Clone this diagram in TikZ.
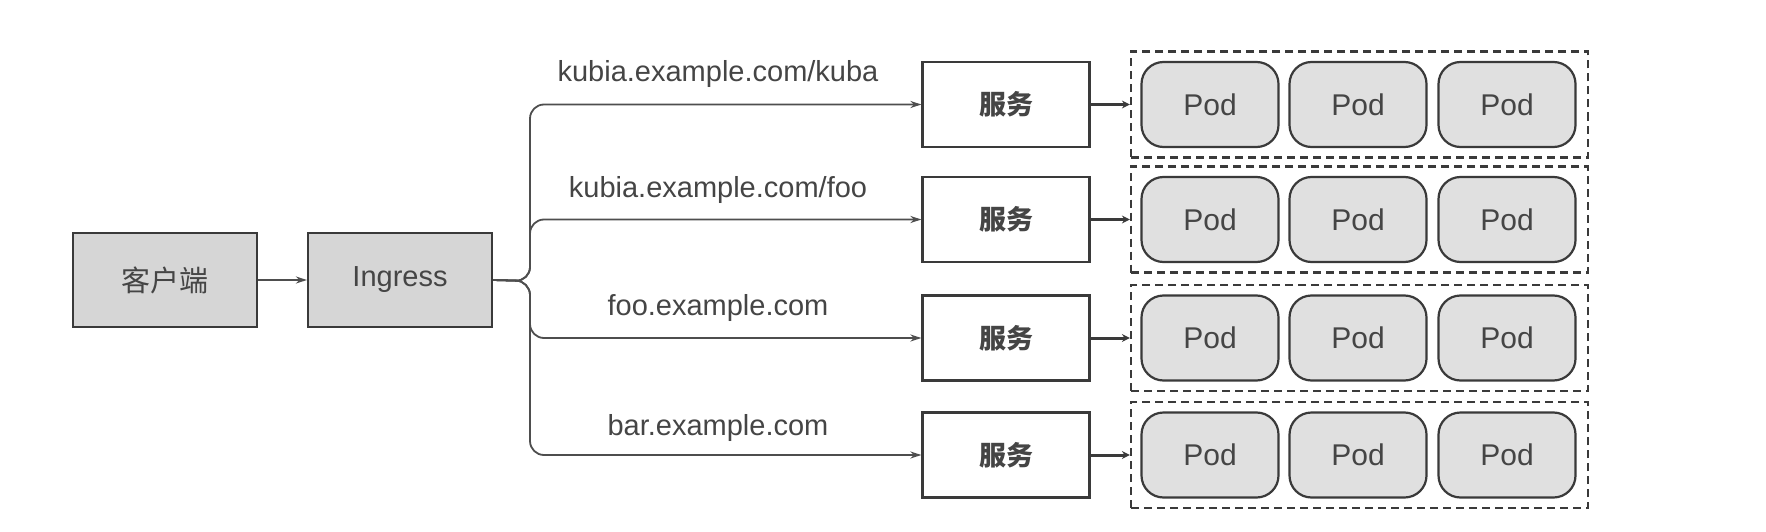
\documentclass[tikz,border=0pt]{standalone}
\usepackage{fontspec}
\setmainfont{Liberation Sans}
\newfontfamily\cjk{Noto Sans CJK SC}
\usetikzlibrary{arrows.meta}
\definecolor{ink}{HTML}{3A3A3A}
\definecolor{txt}{HTML}{454545}
\definecolor{boxfill}{HTML}{D6D6D6}
\definecolor{podfill}{HTML}{E0E0E0}
\begin{document}
\begin{tikzpicture}[x=1pt,y=-1pt,
 base/.style={draw=ink, line width=2.2pt, text=txt, font=\fontsize{29}{34}\selectfont, inner sep=0pt},
 graybox/.style={base, fill=boxfill, minimum width=184pt, minimum height=94pt},
 svcbox/.style={base, fill=white, minimum width=167pt, minimum height=85pt, font=\cjk\bfseries\fontsize{27}{32}\selectfont},
 podbox/.style={base, fill=podfill, rounded corners=22pt, minimum width=137pt, minimum height=85pt, font=\fontsize{30}{35}\selectfont},
 group/.style={draw=ink, line width=2.2pt, dash pattern=on 8pt off 5pt, minimum width=457pt, minimum height=106pt, inner sep=0pt},
 route/.style={draw=ink!90, line width=1.8pt, -{Stealth[length=11pt,width=7pt]}},
 feed/.style={draw=ink, line width=3pt, -{Stealth[length=8pt,width=8pt]}},
 lbl/.style={text=txt, font=\fontsize{29}{34}\selectfont, inner sep=0pt},
]
\useasboundingbox[fill=white] (0,0) rectangle (1766,532);

\node[graybox] (client) at (165,280) {\cjk 客户端};
\node[graybox] (ingress) at (400,280) {\raisebox{-2pt}{Ingress}};
\draw[route] (client) -- (ingress);

\foreach \i/\y in {1/104.5,2/219.5,3/338,4/455}{
  \node[svcbox] (s\i) at (1006,\y) {服务};
  \node[group] (g\i) at (1359.5,\y) {};
  \node[podbox] (p\i a) at (1210,\y) {Pod};
  \node[podbox] (p\i b) at (1358,\y) {Pod};
  \node[podbox] (p\i c) at (1507,\y) {Pod};
  \draw[feed] (s\i.east) -- (g\i.west);
}

\coordinate (bx) at (530,281);
\draw[route, rounded corners=14pt] (ingress.east) -- (bx) |- (s1.west);
\draw[route, rounded corners=14pt] (ingress.east) -- (bx) |- (s2.west);
\draw[route, rounded corners=14pt] (ingress.east) -- (bx) |- (s3.west);
\draw[route, rounded corners=14pt] (ingress.east) -- (bx) |- (s4.west);

\node[lbl] (l1) at (718,74) {kubia.example.com/kuba};
\node[lbl] (l2) at (718,190) {kubia.example.com/foo};
\node[lbl] (l3) at (718,308) {foo.example.com};
\node[lbl] (l4) at (718,428) {bar.example.com};
\end{tikzpicture}
\end{document}
